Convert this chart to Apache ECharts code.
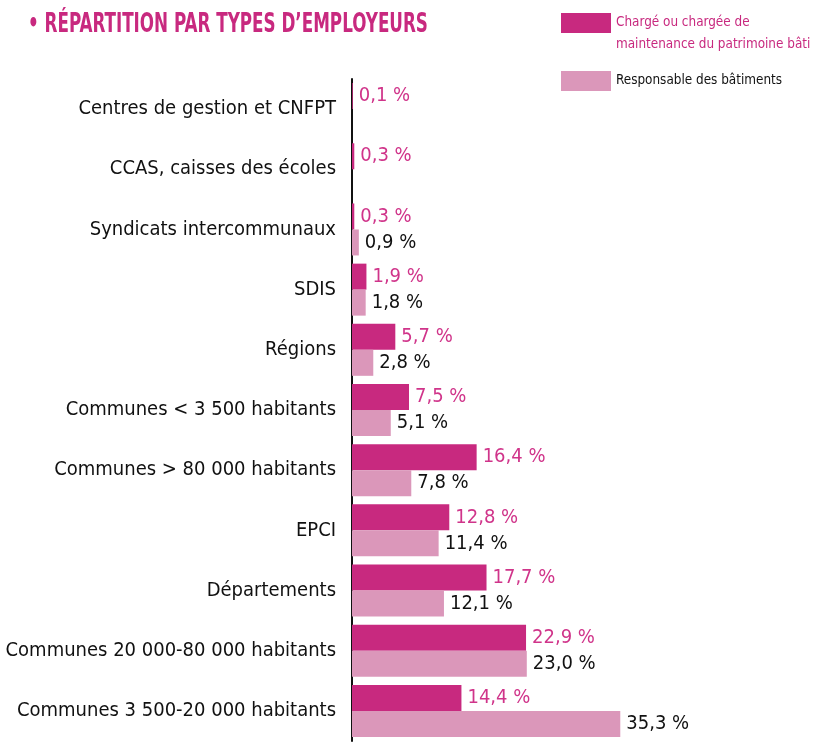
<!DOCTYPE html>
<html>
<head>
<meta charset="utf-8">
<script src="https://cdn.jsdelivr.net/npm/echarts@6/dist/echarts.min.js"></script>
<style>
  html, body { margin: 0; padding: 0; background: #fff; }
  #chart { width: 816px; height: 742px; }
</style>
</head>
<body>
<div id="chart"></div>
<script>
const FONT = '"DejaVu Sans Condensed", "Liberation Sans Narrow", "Liberation Sans", sans-serif';
const MAGENTA = "#c8297f";
const PINK = "#db97ba";

const categories = [
  "Centres de gestion et CNFPT",
  "CCAS, caisses des écoles",
  "Syndicats intercommunaux",
  "SDIS",
  "Régions",
  "Communes < 3 500 habitants",
  "Communes > 80 000 habitants",
  "EPCI",
  "Départements",
  "Communes 20 000-80 000 habitants",
  "Communes 3 500-20 000 habitants",
];
const chargeMaintenance = [0.1, 0.3, 0.3, 1.9, 5.7, 7.5, 16.4, 12.8, 17.7, 22.9, 14.4];
const responsableBatiments = [null, null, 0.9, 1.8, 2.8, 5.1, 7.8, 11.4, 12.1, 23.0, 35.3];
const seriesNames = ["Chargé ou chargée de\nmaintenance du patrimoine bâti", "Responsable des bâtiments"];

const fmt = (p) => p.value.toFixed(1).replace(".", ",") + " %";

const chart = echarts.init(document.getElementById("chart"), null, { renderer: "canvas" });
chart.setOption({
  animation: false,
  graphic: [
    {
      type: "text",
      left: 28,
      top: 11,
      scaleX: 0.69,
      style: {
        text: "• RÉPARTITION PAR TYPES D’EMPLOYEURS",
        font: "bold 27px " + FONT,
        fill: MAGENTA,
      },
    },
  ],
  legend: [
    {
      // leading blank line keeps the first text line level with the swatch
      data: [{ name: seriesNames[0], textStyle: { color: MAGENTA } }],
      formatter: (name) => "\n" + name,
      left: 561,
      top: -10,
      padding: 0,
      itemWidth: 50,
      itemHeight: 20,
      itemGap: 8,
      icon: "rect",
      textStyle: { fontFamily: FONT, fontSize: 13.4, lineHeight: 22 },
    },
    {
      data: [{ name: seriesNames[1], textStyle: { color: "#111" } }],
      left: 561,
      top: 70,
      padding: 0,
      itemWidth: 50,
      itemHeight: 20,
      icon: "rect",
      textStyle: { fontFamily: FONT, fontSize: 13.4, lineHeight: 22 },
    },
  ],
  grid: { left: 352, right: 84, top: 79, bottom: 1, outerBoundsMode: "none", containLabel: false },
  xAxis: {
    type: "value",
    min: 0,
    max: 50,
    show: false,
  },
  yAxis: {
    type: "category",
    data: categories,
    inverse: true,
    axisLine: { lineStyle: { color: "#111", width: 2 } },
    axisTick: { show: false },
    axisLabel: { color: "#111", fontFamily: FONT, fontSize: 20, margin: 16 },
  },
  series: [
    {
      name: seriesNames[0],
      type: "bar",
      data: chargeMaintenance,
      barWidth: 26,
      barGap: "0%",
      itemStyle: { color: MAGENTA },
      label: {
        show: true,
        position: "right",
        distance: 6,
        formatter: fmt,
        color: "#d0348a",
        fontFamily: FONT,
        fontSize: 20,
      },
    },
    {
      name: seriesNames[1],
      type: "bar",
      data: responsableBatiments,
      barWidth: 26,
      itemStyle: { color: PINK },
      label: {
        show: true,
        position: "right",
        distance: 6,
        formatter: fmt,
        color: "#111",
        fontFamily: FONT,
        fontSize: 20,
      },
    },
  ],
});
</script>
</body>
</html>
